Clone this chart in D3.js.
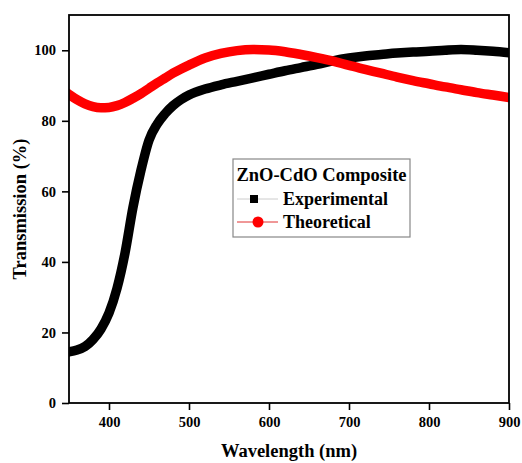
<!DOCTYPE html>
<html>
<head>
<meta charset="utf-8">
<script src="https://cdnjs.cloudflare.com/ajax/libs/d3/7.8.5/d3.min.js"></script>
<style>
  body { margin: 0; background: #fff; }
  svg { display: block; }
  text { font-family: "Liberation Serif", "Times New Roman", serif; font-weight: bold; fill: #000; }
</style>
</head>
<body>
<div id="container"></div>
<script>
// data
var wavelength = [350, 360, 370, 380, 390, 400, 410, 420, 430, 440, 450, 460, 470, 480, 490, 500,
                  520, 540, 560, 580, 600, 620, 640, 660, 680, 700, 720, 740, 760, 780, 800,
                  820, 840, 860, 880, 900];
var experimental = [14.5, 15, 16, 18, 21, 25.5, 32.5, 42.5, 55.5, 66, 74.5, 79, 82, 84.3, 86, 87.3,
                    89, 90.2, 91.2, 92.2, 93.2, 94.2, 95.1, 96, 97, 97.8, 98.4, 98.8, 99.2, 99.5, 99.7,
                    100, 100.2, 100, 99.7, 99.3];
var theoretical = [87.5, 86, 84.8, 84.0, 83.7, 83.8, 84.3, 85.2, 86.4, 87.7, 89.2, 90.7, 92.1, 93.5, 94.7, 95.8,
                   97.8, 99.1, 99.9, 100.2, 100.1, 99.6, 98.8, 97.9, 96.9, 95.7, 94.6, 93.5, 92.4, 91.4, 90.5,
                   89.6, 88.8, 88.0, 87.3, 86.6];
var xTicks = [400, 500, 600, 700, 800, 900];
var yTicks = [0, 20, 40, 60, 80, 100];
var legendTitle = "ZnO-CdO Composite";
var seriesNames = ["Experimental", "Theoretical"];

const width = 522;
const height = 463;
const margin = {left: 69, right: 13, top: 15, bottom: 60};

const svg = d3.select("div#container").append("svg")
    .attr("width", width)
    .attr("height", height);

//----------------------------SCALES----------------------------//
const xScale = d3.scaleLinear().domain([350, 900]).range([margin.left, width - margin.right]);
const yScale = d3.scaleLinear().domain([0, 110]).range([height - margin.bottom, margin.top]);

svg.append("clipPath").attr("id", "clip")
  .append("rect")
    .attr("x", xScale(350))
    .attr("y", yScale(110))
    .attr("width", xScale(900) - xScale(350))
    .attr("height", yScale(0) - yScale(110));

//-----------------------------LINES----------------------------//
const line = d3.line()
    .x(function(d) { return xScale(d[0]); })
    .y(function(d) { return yScale(d[1]); })
    .curve(d3.curveMonotoneX);

const plot = svg.append("g").attr("clip-path", "url(#clip)");

plot.append("path")
    .datum(d3.zip(wavelength, experimental))
    .attr("fill", "none")
    .attr("stroke", "#000")
    .attr("stroke-width", 9.5)
    .attr("stroke-linecap", "square")
    .attr("d", line);

plot.append("path")
    .datum(d3.zip(wavelength, theoretical))
    .attr("fill", "none")
    .attr("stroke", "#ff0000")
    .attr("stroke-width", 9.5)
    .attr("stroke-linecap", "square")
    .attr("d", line);

//-----------------------------AXES-----------------------------//
const xaxis = d3.axisBottom(xScale).tickValues(xTicks).tickSize(7).tickPadding(7);
const yaxis = d3.axisLeft(yScale).tickValues(yTicks).tickSize(7).tickPadding(6);

const gx = svg.append("g")
    .attr("transform", "translate(0," + yScale(0) + ")")
    .call(xaxis);
const gy = svg.append("g")
    .attr("transform", "translate(" + xScale(350) + ",0)")
    .call(yaxis);

[gx, gy].forEach(function(g) {
  g.select(".domain").remove();
  g.selectAll(".tick line").attr("stroke", "#000").attr("stroke-width", 1.6);
  g.selectAll(".tick text").style("font-size", "14.5px");
});

// frame
svg.append("rect")
    .attr("x", xScale(350))
    .attr("y", yScale(110))
    .attr("width", xScale(900) - xScale(350))
    .attr("height", yScale(0) - yScale(110))
    .attr("fill", "none")
    .attr("stroke", "#000")
    .attr("stroke-width", 1.8);

svg.append("text")
    .attr("x", (xScale(350) + xScale(900)) / 2)
    .attr("y", 457)
    .attr("text-anchor", "middle")
    .style("font-size", "18.5px")
    .text("Wavelength (nm)");

svg.append("text")
    .attr("transform", "translate(26," + (yScale(0) + yScale(110)) / 2 + ") rotate(-90)")
    .attr("text-anchor", "middle")
    .style("font-size", "18.5px")
    .text("Transmission (%)");

//----------------------------LEGEND----------------------------//
const legend = svg.append("g").attr("transform", "translate(233,159)");
legend.append("rect")
    .attr("width", 177).attr("height", 78)
    .attr("fill", "#fff")
    .attr("stroke", "#888")
    .attr("stroke-width", 1.2);
legend.append("text")
    .attr("x", 88.5).attr("y", 22)
    .attr("text-anchor", "middle")
    .style("font-size", "18.5px")
    .text(legendTitle);

const rows = legend.selectAll("g.row")
    .data(seriesNames)
    .enter().append("g")
    .attr("class", "row")
    .attr("transform", function(d, i) { return "translate(0," + (40 + i * 23) + ")"; });

rows.append("line")
    .attr("x1", 4).attr("x2", 45)
    .attr("stroke", function(d, i) { return i == 0 ? "#ccc" : "#e03030"; })
    .attr("stroke-width", 1);
rows.filter(function(d, i) { return i == 0; }).append("rect")
    .attr("x", 17).attr("y", -4).attr("width", 8).attr("height", 8)
    .attr("fill", "#000");
rows.filter(function(d, i) { return i == 1; }).append("circle")
    .attr("cx", 25).attr("r", 5.5)
    .attr("fill", "#ff0000");
rows.append("text")
    .attr("x", 50).attr("y", 6)
    .style("font-size", "18px")
    .text(function(d) { return d; });
</script>
</body>
</html>
